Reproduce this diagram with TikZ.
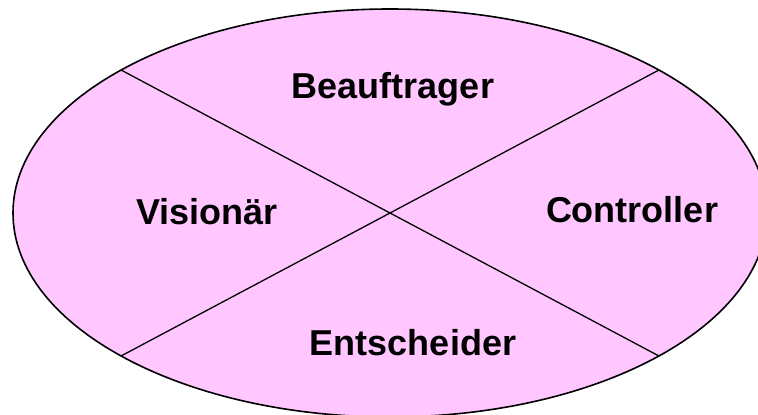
\documentclass[tikz,border=0pt]{standalone}
\usepackage{fontspec}
\setmainfont{Liberation Sans}
\usetikzlibrary{shapes.geometric}
\definecolor{RolePink}{HTML}{FFC6FF}

\begin{document}
\begin{tikzpicture}[x=1pt,y=-1pt,
  oval/.style={ellipse,draw=black,line width=1.6pt,fill=RolePink,inner sep=0pt,outer sep=0pt,minimum width=754pt,minimum height=408pt},
  role/.style={font=\fontsize{36}{42}\selectfont\bfseries,inner sep=0pt},
  split/.style={draw=black,line width=1.3pt}
]
\useasboundingbox (0,0) rectangle (758,415);
\begin{scope}
\clip (0,0) rectangle (758,415);
\node[oval] (rolle) at (390,213) {};
\draw[split] (rolle.152) -- (rolle.-28);
\draw[split] (rolle.28) -- (rolle.208);
\end{scope}
\node[role] (auftrag) at (393,89) {Beauftrager};
\node[role] (vision) at (207,212) {Visionär};
\node[role] (control) at (632,210) {Controller};
\node[role] (entscheid) at (413,343) {Entscheider};
\end{tikzpicture}
\end{document}
